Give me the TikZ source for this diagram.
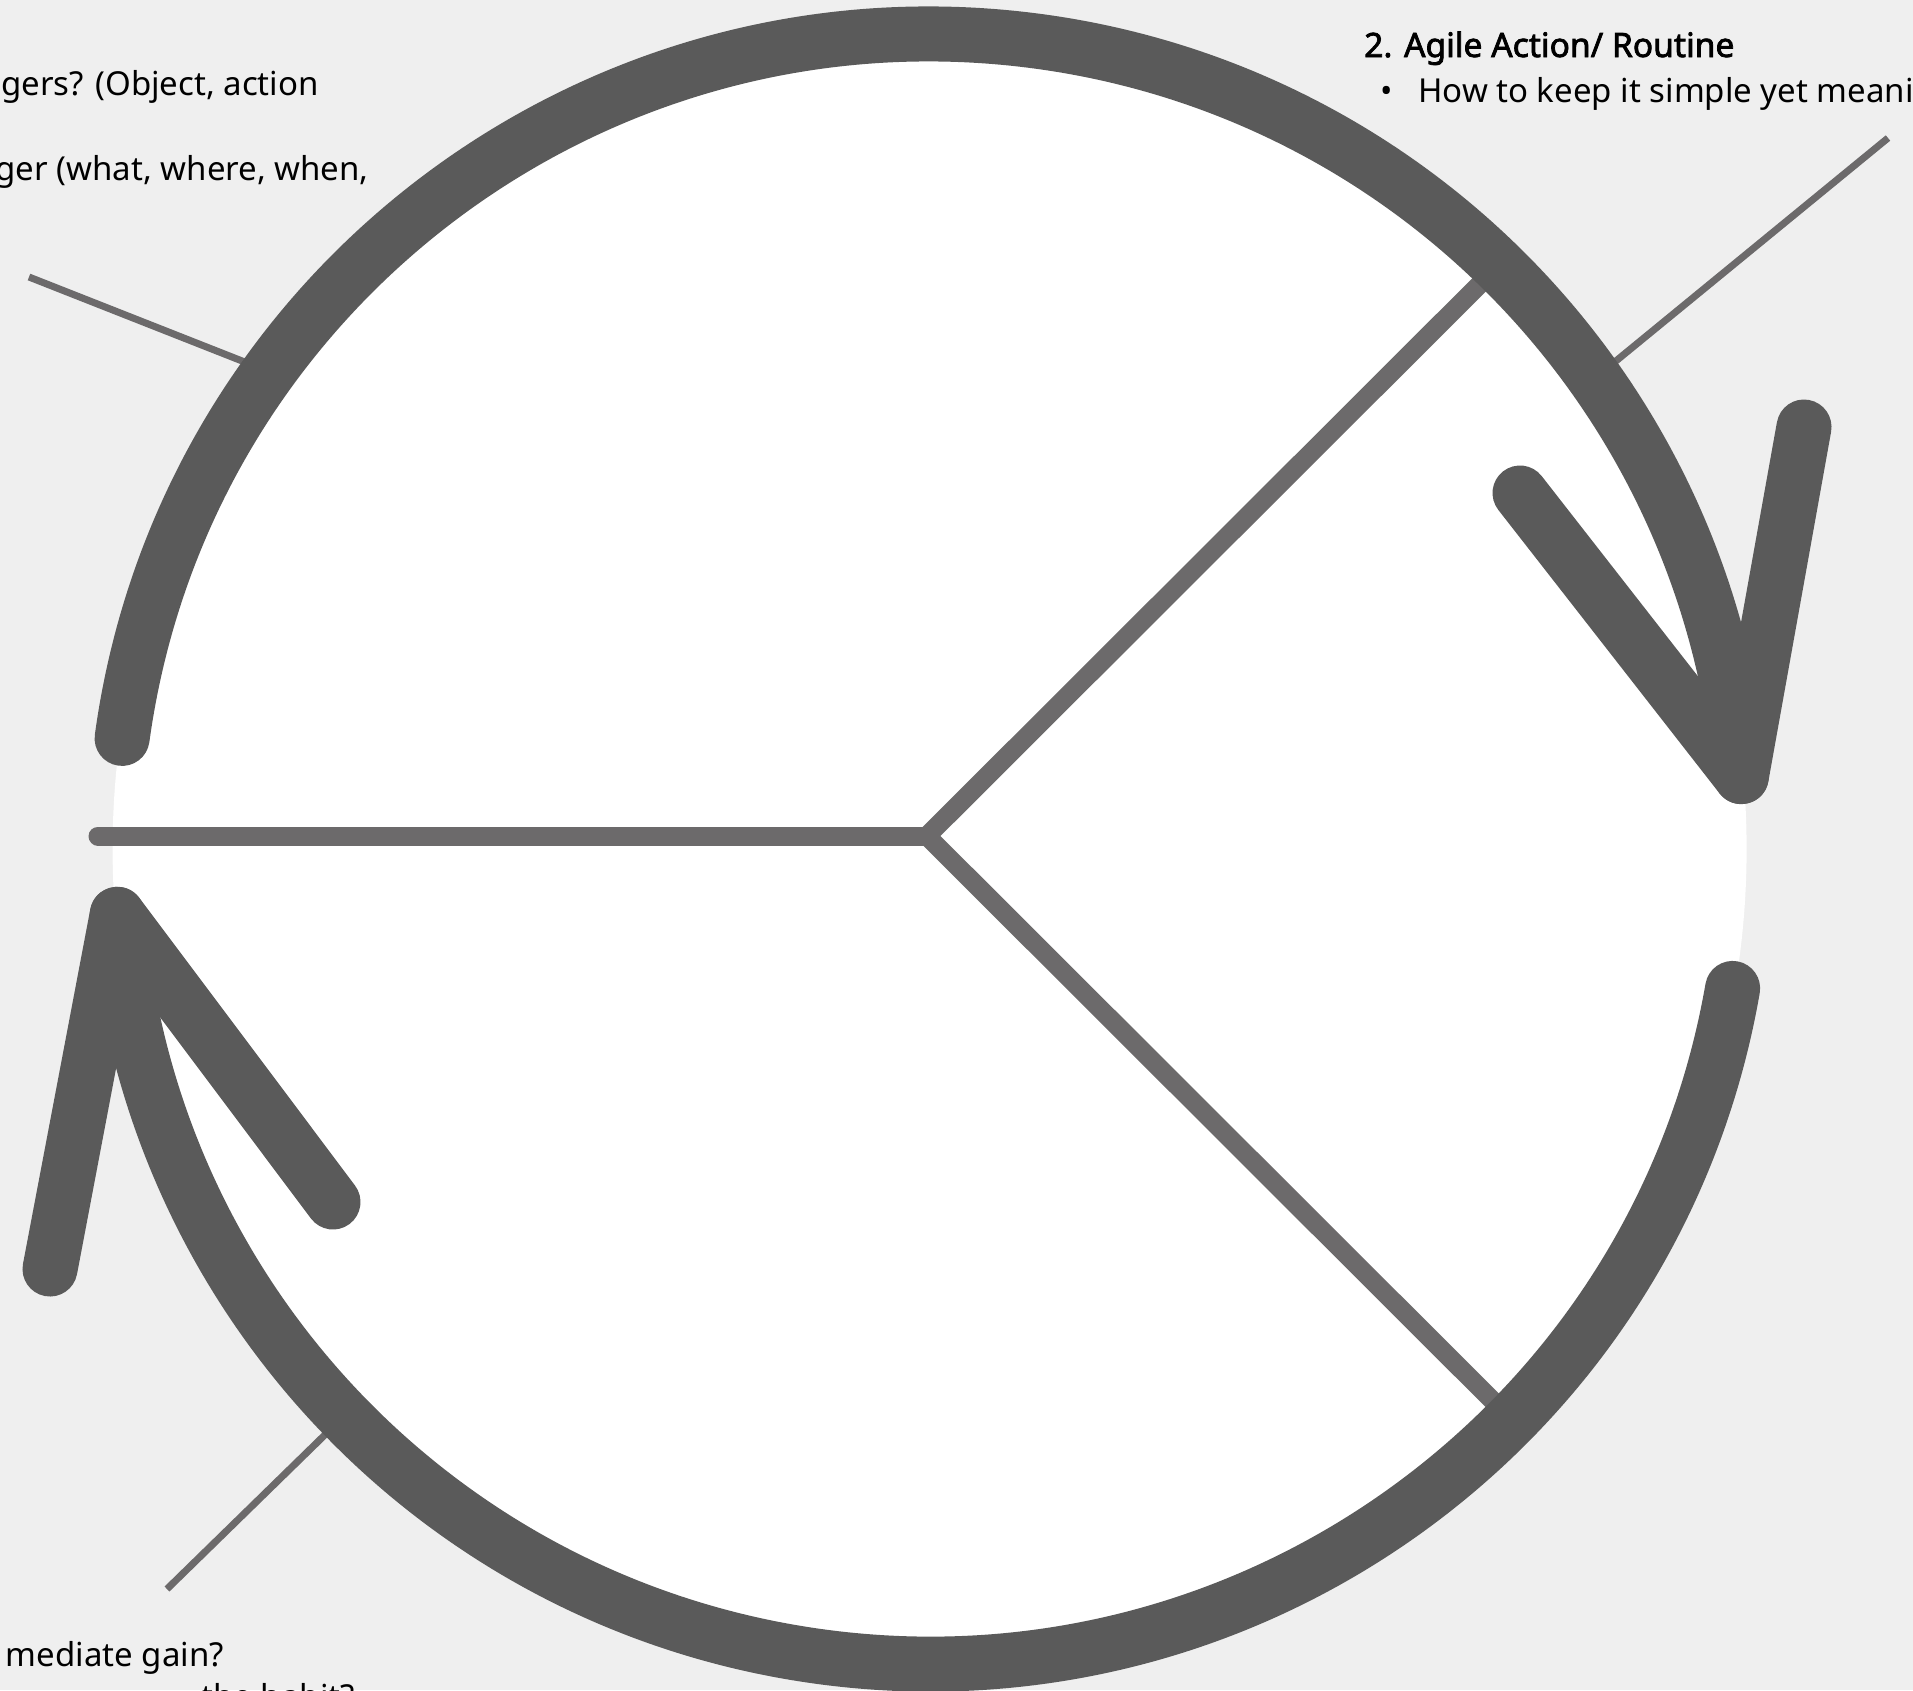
\documentclass[tikz,border=0pt]{standalone}
\usepackage{fontspec}
\setmainfont{Noto Sans}
\newfontfamily\headfont{Noto Sans}[FakeBold=2.2]
\definecolor{bgc}{HTML}{EFEFEF}
\definecolor{arcc}{HTML}{5A5A5A}
\definecolor{spokec}{HTML}{6C6A6B}
\begin{document}
\begin{tikzpicture}[x=1pt,y=-1pt,
  darkarc/.style={draw=arcc,line width=55pt,line cap=round,line join=round},
  spoke/.style={draw=spokec,line width=19pt,line cap=round,line join=bevel},
  leader/.style={draw=spokec,line width=7pt},
  lbl/.style={inner sep=0pt,font=\fontsize{33}{39}\selectfont,text=black}]
\fill[bgc] (0,0) rectangle (1913,1690);
\useasboundingbox (0,0) rectangle (1913,1690);
% white disk
\fill[white] (929.6,849) circle[radius=817];
% named points
\coordinate (J) at (927,836);
\coordinate (Hl) at (98,836);
\coordinate (Sup) at (1497,267);
\coordinate (Sdn) at (1497,1405);
\coordinate (L1a) at (29,277);
\coordinate (L1b) at (265,370);
\coordinate (L2a) at (1888,138);
\coordinate (L2b) at (1600,374);
\coordinate (L3a) at (167,1589);
\coordinate (L3b) at (335,1425);
\coordinate (Ustart) at (122.1,738.4);
\coordinate (Lstart) at (1732.6,988.4);
\coordinate (Ua1) at (1804,427);
\coordinate (Ua2) at (1520,493);
\coordinate (La1) at (50,1269);
\coordinate (La2) at (333,1202);
% leader lines
\draw[leader] (L1a) -- (L1b);
\draw[leader] (L2a) -- (L2b);
\draw[leader] (L3a) -- (L3b);
% spokes
\draw[spoke] (Hl) -- (J);
\draw[spoke] (Sup) -- (J) -- (Sdn);
% dark arcs
\draw[darkarc] (Ustart) arc[start angle=-172.2, end angle=-5.1, radius=815] coordinate (Utip);
\draw[darkarc] (Lstart) arc[start angle=9.85, end angle=175.4, radius=815] coordinate (Ltip);
\draw[darkarc] (Ua1) -- (Utip) -- (Ua2);
\draw[darkarc] (La1) -- (Ltip) -- (La2);
% texts
\node[lbl,anchor=base east] (t1) at (319,95) {gers? (Object, action};
\node[lbl,anchor=base east] (t2) at (369,180) {ger (what, where, when,};
\node[lbl,anchor=base west,font=\headfont\fontsize{33.6}{40}\selectfont] (h2) at (1364,57) {2. Agile Action/ Routine};
\node[lbl,anchor=base] (bul) at (1387,102) {\textbullet};
\node[lbl,anchor=base west] (t3) at (1418,102) {How to keep it simple yet meani};
\node[lbl,anchor=base east] (t4) at (224,1666) {mediate gain?};
\node[lbl,anchor=base east] (t5) at (355,1708) {the habit?};
\end{tikzpicture}
\end{document}
